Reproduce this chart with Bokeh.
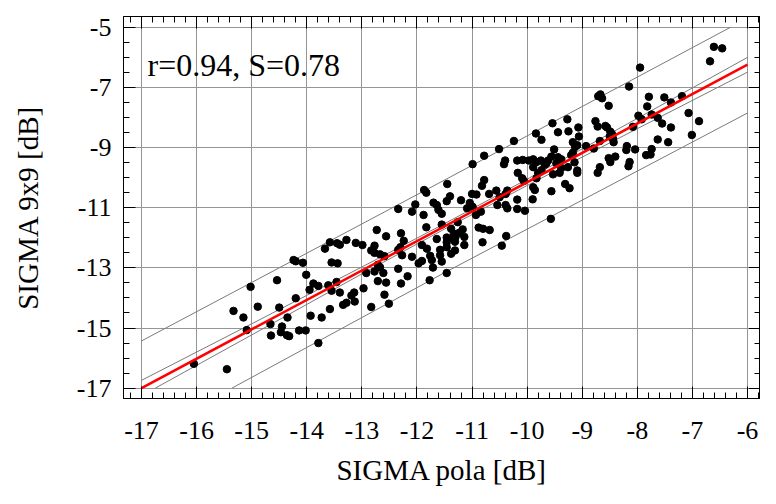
import numpy as np
from bokeh.plotting import figure
from bokeh.models import Range1d, LinearAxis, FixedTicker, Label
from bokeh.embed import file_html
from bokeh.resources import INLINE

# ---------------- data ----------------
sigma_pola = [
    -16.05, -15.45, -15.33, -15.15, -15.09, -15.02, -14.89, -14.66, -14.65, -14.54,
    -14.50, -14.45, -14.47, -14.36, -14.32, -14.35, -14.24,
    -12.73, -12.56, -13.58, -13.45, -13.40, -13.28, -13.11, -12.99, -12.77, -12.83,
    -13.67, -12.77, -12.67, -12.59, -14.20, -14.07, -13.55, -13.44, -12.71, -12.67,
    -12.61, -12.77, -12.92, -14.01, -12.71, -12.56, -13.88, -13.79, -13.61, -13.46,
    -13.95, -13.55, -13.40, -12.97, -13.14, -13.19, -12.59, -14.20, -13.13, -13.28,
    -13.34, -12.51, -12.83, -13.58, -13.93, -13.73, -14.14, -14.02, -13.79,
    -10.78, -10.99, -11.45, -10.78, -10.82, -11.87, -11.83, -10.69, -11.00, -10.92,
    -11.40, -11.20, -11.46, -11.70, -11.64, -12.03, -11.04, -10.99, -12.34, -12.09,
    -11.61, -11.55, -11.09, -10.93, -11.88, -10.84, -11.55, -11.26, -11.83, -11.38,
    -11.17, -11.23, -11.33, -10.88, -10.80, -10.68, -12.29, -11.64, -11.46, -11.36,
    -11.30, -11.14, -10.81, -12.24, -12.30, -12.34, -11.46, -11.31, -11.14, -11.91,
    -11.82, -11.46, -11.58, -11.31, -11.38, -12.27, -12.09, -11.76, -11.58, -11.73,
    -11.91, -11.97, -11.55, -11.71, -12.34, -12.17, -11.46, -11.77, -12.29,
    -9.27, -9.54, -9.07, -9.44, -9.25, -9.84, -9.06, -9.74, -10.24, -9.17,
    -9.09, -9.13, -8.93, -10.51, -9.51, -9.17, -9.20, -9.44, -9.56, -9.38,
    -9.14, -10.40, -10.42, -10.18, -10.08, -9.97, -9.89, -9.83, -9.75, -9.62,
    -9.65, -9.47, -9.89, -9.68, -9.38, -9.26, -9.09, -9.09, -9.74, -9.80,
    -10.17, -9.41, -9.53, -10.09, -9.83, -10.06, -9.89, -9.86, -9.31, -9.23,
    -9.56, -10.56, -10.36, -10.39, -10.50, -10.18, -9.90, -10.54, -10.39, -10.36,
    -10.18, -10.04, -9.57, -10.38, -10.46,
    -7.95, -8.15, -8.67, -8.64, -8.71, -8.52, -7.79, -7.51, -7.19, -7.82,
    -7.39, -7.07, -7.98, -7.74, -7.63, -7.92, -7.55, -8.76, -8.72, -8.58,
    -8.55, -8.08, -7.39, -8.49, -8.46, -8.50, -8.44, -8.68, -8.43, -7.63,
    -7.44, -8.79, -8.19, -8.20, -8.04, -7.74, -7.76, -7.84, -8.40, -8.52,
    -8.49, -8.14, -8.16, -8.68, -8.72,
    -6.61, -6.46, -6.68, -6.88, -7.01,
]
sigma_9x9 = [
    -16.19, -16.37, -14.43, -14.65, -15.07, -13.63, -14.29, -14.87, -15.25, -13.41,
    -14.32, -14.95, -15.14, -15.24, -15.27, -14.65, -12.74,
    -11.74, -11.95, -12.15, -12.18, -12.23, -12.07, -12.17, -12.24, -12.26, -12.42,
    -12.36, -12.50, -12.55, -12.61, -12.78, -12.83, -12.82, -12.85, -12.90, -12.98,
    -13.17, -13.12, -13.17, -13.23, -13.44, -13.49, -13.52, -13.60, -13.58, -13.47,
    -13.73, -13.76, -13.82, -13.68, -13.82, -13.92, -13.89, -14.01, -14.12, -14.16,
    -14.23, -14.19, -14.30, -14.37, -14.59, -14.65, -15.08, -15.08, -15.50,
    -9.27, -9.55, -10.21, -10.08, -10.27, -10.41, -10.50, -10.54, -10.54, -10.56,
    -10.62, -10.75, -10.78, -10.83, -10.91, -10.89, -10.84, -10.97, -11.04, -11.13,
    -11.07, -11.20, -11.02, -11.24, -11.24, -11.13, -11.56, -11.48, -11.65, -11.70,
    -11.72, -11.83, -11.86, -11.66, -11.70, -11.74, -11.85, -12.04, -11.99, -12.01,
    -11.97, -11.97, -12.15, -12.10, -12.31, -12.40, -12.15, -12.13, -12.24, -12.24,
    -12.36, -12.31, -12.40, -12.42, -12.53, -12.58, -12.63, -12.60, -12.58, -12.74,
    -12.77, -12.85, -12.79, -12.99, -13.03, -13.28, -13.17, -13.41, -13.52,
    -8.06, -8.19, -8.33, -8.49, -8.46, -8.53, -8.63, -8.74, -8.78, -8.82,
    -8.92, -8.98, -8.95, -9.05, -9.06, -9.17, -9.25, -9.32, -9.30, -9.39,
    -9.49, -9.43, -9.55, -9.43, -9.41, -9.43, -9.39, -9.48, -9.43, -9.43,
    -9.52, -9.52, -9.65, -9.57, -9.68, -9.65, -9.76, -9.84, -9.75, -9.84,
    -9.84, -9.84, -9.89, -10.02, -10.02, -10.11, -10.32, -10.41, -10.21, -10.35,
    -10.45, -10.43, -10.43, -10.54, -10.65, -10.73, -10.72, -10.91, -10.91, -11.02,
    -11.04, -11.10, -11.37, -11.94, -12.26,
    -6.34, -6.97, -7.23, -7.36, -7.29, -7.61, -7.31, -7.33, -7.29, -7.63,
    -7.50, -7.85, -7.94, -7.90, -8.01, -8.06, -8.20, -8.12, -8.30, -8.28,
    -8.33, -8.31, -8.33, -8.47, -8.55, -8.63, -8.71, -8.78, -8.82, -8.73,
    -8.82, -9.03, -8.95, -9.08, -9.06, -9.05, -9.23, -9.25, -9.30, -9.35,
    -9.48, -9.48, -9.62, -9.65, -9.84,
    -5.65, -5.70, -6.13, -8.12, -8.58,
]

# regression line
fit_x = [-17.0, -6.0]
fit_y = [-17.0, -6.24]
# 95% confidence band of the fit
conf_up_x = [-17.0, -15.0, -13.0, -11.5, -10.0, -8.0, -6.0]
conf_up_y = [-16.74, -14.86, -12.97, -11.53, -10.05, -8.03, -6.00]
conf_lo_x = [-16.75, -15.0, -13.0, -11.5, -10.0, -8.0, -6.0]
conf_lo_y = [-17.00, -15.23, -13.20, -11.71, -10.26, -8.37, -6.49]
# 95% prediction band
pred_up_x = [-17.0, -11.5, -6.31]
pred_up_y = [-15.43, -10.08, -5.00]
pred_lo_x = [-15.36, -11.5, -6.0]
pred_lo_y = [-17.00, -13.16, -7.85]

x_ticks = [-17, -16, -15, -14, -13, -12, -11, -10, -9, -8, -7, -6]
y_ticks = [-17, -15, -13, -11, -9, -7, -5]
stat_text = "r=0.94, S=0.78"
stat_x, stat_y = -16.89, -6.25
x_title = "SIGMA pola [dB]"
y_title = "SIGMA 9x9 [dB]"

# ---------------- figure ----------------
FONT = "Liberation Serif"
x_lo, x_hi = -17.327, -5.764
y_lo, y_hi = -17.344, -4.64

p = figure(width=760, height=488,
           x_range=Range1d(x_lo, x_hi), y_range=Range1d(y_lo, y_hi),
           output_backend="svg", toolbar_location=None,
           min_border_left=123, min_border_right=0,
           min_border_top=16, min_border_bottom=85)
p.background_fill_color = "white"
p.border_fill_color = "white"
p.outline_line_color = "black"
p.outline_line_width = 1
p.outline_line_alpha = 1.0

x_minor = [round(v, 1) for v in np.arange(-17.4, -5.6, 0.2)]
y_minor = [round(v, 1) for v in np.arange(-17.5, -4.4, 0.5)]
xt = FixedTicker(ticks=x_ticks, minor_ticks=x_minor)
yt = FixedTicker(ticks=y_ticks, minor_ticks=y_minor)

p.add_layout(LinearAxis(), "above")
p.add_layout(LinearAxis(), "right")

for ax in list(p.xaxis) + list(p.yaxis):
    ax.axis_line_color = "black"
    ax.major_tick_in = 12
    ax.major_tick_out = 0
    ax.minor_tick_in = 6
    ax.minor_tick_out = 0
    ax.major_tick_line_color = "black"
    ax.minor_tick_line_color = "black"
    ax.major_label_text_font = FONT
    ax.major_label_text_font_size = "26px"
    ax.major_label_text_color = "black"
    ax.axis_label_text_font = FONT
    ax.axis_label_text_font_size = "29px"
    ax.axis_label_text_font_style = "normal"
    ax.axis_label_text_color = "black"
for ax in p.xaxis:
    ax.ticker = xt
    ax.major_label_overrides = {t: str(t) for t in x_ticks}
for ax in p.yaxis:
    ax.ticker = yt
    ax.major_label_overrides = {t: str(t) for t in y_ticks}

bottom = p.below[0]
left = p.left[0]
top = p.above[0]
right = p.right[0]
bottom.axis_label = x_title
bottom.major_label_standoff = 23
bottom.axis_label_standoff = 12
left.axis_label = y_title
left.major_label_standoff = 12
left.axis_label_standoff = 30
for ax in (top, right):
    ax.major_label_text_font_size = "1px"
    ax.major_label_text_color = None
    ax.major_label_standoff = 0

p.xgrid.ticker = xt
p.ygrid.ticker = yt
for g in (p.xgrid, p.ygrid):
    g.grid_line_color = "#959595"
    g.grid_line_width = 1
try:
    p.xgrid.cross_bounds = (-17, y_hi)
    p.ygrid.cross_bounds = (x_lo, -6)
except Exception:
    pass

band_col = "#7a7a7a"
p.line(pred_up_x, pred_up_y, line_color=band_col, line_width=1)
p.line(pred_lo_x, pred_lo_y, line_color=band_col, line_width=1)
p.line(conf_up_x, conf_up_y, line_color=band_col, line_width=1)
p.line(conf_lo_x, conf_lo_y, line_color=band_col, line_width=1)

p.scatter(sigma_pola, sigma_9x9, size=7.5, fill_color="black", line_color="black")

p.line(fit_x, fit_y, line_color="#ff0000", line_width=2.5)

p.add_layout(Label(x=stat_x, y=stat_y, text=stat_text, text_font=FONT,
                   text_font_size="32px", text_color="black",
                   text_align="left", text_baseline="alphabetic"))

open("out.html", "w").write(file_html(p, INLINE))
